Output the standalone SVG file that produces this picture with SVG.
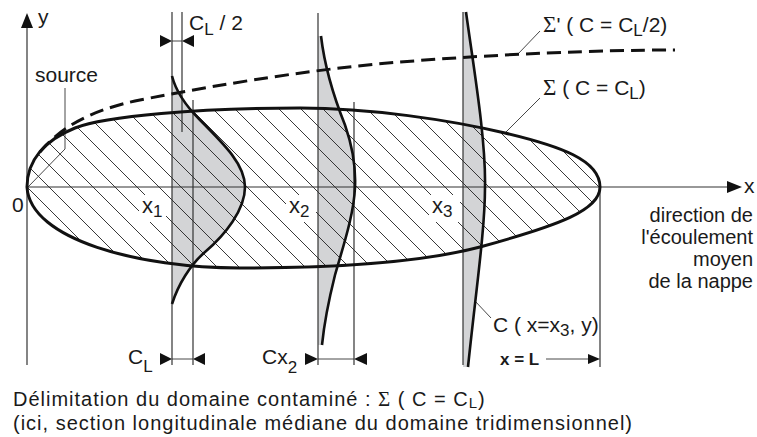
<svg xmlns="http://www.w3.org/2000/svg" width="757" height="437" viewBox="0 0 757 437">
<style>
text{font-family:"Liberation Sans",Arial,sans-serif;fill:#1a1a1a}
.lbl{font-size:21px}
.sub{font-size:17px}
.rt{font-size:20px;text-anchor:end}
.cap{font-size:20px;letter-spacing:1px}
.thin{stroke:#333;stroke-width:1.2;fill:none}
.lead{stroke:#333;stroke-width:0.9;fill:none}
.thick{stroke:#111;stroke-width:3;fill:none}
.prof{stroke:#111;stroke-width:2.6;fill:none}
.gray{fill:#d3d4d6;stroke:none}
.ah{fill:#111}
.sig{font-family:"Liberation Serif","DejaVu Serif",serif}
</style>
<defs>
<pattern id="hatch" patternUnits="userSpaceOnUse" x="27" y="187" width="22" height="22">
<path d="M0,0 L22,22 M-2,20 L2,24 M20,-2 L24,2" stroke="#222" stroke-width="0.9"/>
</pattern>
</defs>

<g id="fills">
<path class="gray" d="M172,76 C176,92 185,105 200,120 C225,145 245,165 245,187 C245,210 225,235 205,252 C190,265 178,285 172,304 Z"/>
<path class="gray" d="M318,36 L321,36 C325,70 335,100 345,125 C352,145 356,165 355,187 C354,215 342,250 335,275 C330,295 324,325 322,345 L318,345 Z"/>
<path class="gray" d="M463,12 L466,12 C474,70 486,140 485,187 C485,230 476,290 468,367 L463,367 Z"/>
</g>

<g id="domain-hatch">
<path fill="url(#hatch)" d="M27,187 C27,160 45,140 75,128 C105,116 200,108 300,108 C370,108 450,120 505,133 C560,146 600,160 600,187 C600,210 560,225 480,247 C420,263 330,268 240,268 C140,268 30,240 27,187 Z"/>
<rect x="139" y="195" width="27" height="27" fill="#fff"/>
<rect x="286" y="195" width="30" height="27" fill="#fff"/>
<rect x="429" y="195" width="31" height="27" fill="#fff"/>
</g>

<g id="connectors">
<line class="thin" x1="27" y1="26" x2="27" y2="365"/>
<line class="thin" x1="27" y1="187" x2="729" y2="187"/>
<polygon class="ah" points="27,13 21,28 33,28"/>
<polygon class="ah" points="742,187 727,181 727,193"/>
<line class="thin" x1="172" y1="12" x2="172" y2="365"/>
<line class="thin" x1="182" y1="12" x2="182" y2="132"/>
<line class="thin" x1="193" y1="100" x2="193" y2="365"/>
<line class="thin" x1="318" y1="13" x2="318" y2="365"/>
<line class="thin" x1="354" y1="102" x2="354" y2="365"/>
<line class="thin" x1="463" y1="12" x2="463" y2="365"/>
<line class="thin" x1="600" y1="187" x2="600" y2="367"/>
<line class="lead" x1="172" y1="41" x2="182" y2="41"/>
<polygon class="ah" points="172,41 160,35 160,47"/>
<polygon class="ah" points="182,41 194,35 194,47"/>
<line class="lead" x1="172" y1="359" x2="193" y2="359"/>
<polygon class="ah" points="172,359 160,353 160,365"/>
<polygon class="ah" points="193,359 205,353 205,365"/>
<line class="lead" x1="318" y1="359" x2="354" y2="359"/>
<polygon class="ah" points="318,359 305,353 305,365"/>
<polygon class="ah" points="354,359 367,353 367,365"/>
<line class="lead" x1="546" y1="359" x2="590" y2="359"/>
<polygon class="ah" points="600,359 588,354 588,364"/>
<polyline class="lead" points="65,88 65,149 28,187"/>
<line class="lead" x1="518" y1="54" x2="540" y2="31"/>
<line class="lead" x1="505" y1="133" x2="540" y2="98"/>
<line class="lead" x1="475" y1="301" x2="491" y2="318"/>
</g>

<g id="sigma-CL">
<path class="thick" d="M27,187 C27,160 45,140 75,128 C105,116 200,108 300,108 C370,108 450,120 505,133 C560,146 600,160 600,187 C600,210 560,225 480,247 C420,263 330,268 240,268 C140,268 30,240 27,187 Z"/>
</g>
<g id="sigma-prime">
<path class="thick" stroke-dasharray="14 7" d="M40,152 C60,128 90,110 140,100 C190,90 300,70 400,62 C500,54 600,50 675,50"/>
</g>
<g id="profile-x1">
<path class="prof" d="M172,76 C176,92 185,105 200,120 C225,145 245,165 245,187 C245,210 225,235 205,252 C190,265 178,285 172,304"/>
</g>
<g id="profile-x2">
<path class="prof" d="M321,36 C325,70 335,100 345,125 C352,145 356,165 355,187 C354,215 342,250 335,275 C330,295 324,325 322,345"/>
</g>
<g id="profile-x3">
<path class="prof" d="M466,12 C474,70 486,140 485,187 C485,230 476,290 468,367"/>
</g>

<g id="labels">
<text class="lbl" x="38" y="24">y</text>
<text class="lbl" x="744" y="193">x</text>
<text class="lbl" x="12" y="212">0</text>
<text class="lbl" x="35" y="82">source</text>
<text class="lbl" x="189" y="30">C<tspan class="sub" dy="5">L</tspan><tspan dy="-5"> / 2</tspan></text>
<text class="lbl" x="543" y="32"><tspan class="sig" style="font-size:23px">Σ</tspan>' ( C = C<tspan class="sub" dy="4">L</tspan><tspan dy="-4">/2)</tspan></text>
<text class="lbl" x="543" y="95"><tspan class="sig" style="font-size:23px">Σ</tspan> ( C = C<tspan class="sub" dy="4">L</tspan><tspan dy="-4">)</tspan></text>
<text class="lbl" x="142" y="213" style="font-size:22px">x<tspan class="sub" dy="4">1</tspan></text>
<text class="lbl" x="289" y="213" style="font-size:22px">x<tspan class="sub" dy="4">2</tspan></text>
<text class="lbl" x="432" y="213" style="font-size:22px">x<tspan class="sub" dy="4">3</tspan></text>
<text class="rt" x="753" y="222">direction de</text>
<text class="rt" x="753" y="244">l'écoulement</text>
<text class="rt" x="753" y="266">moyen</text>
<text class="rt" x="753" y="288">de la nappe</text>
<text class="lbl" x="493" y="332">C ( x=x<tspan class="sub" dy="4">3</tspan><tspan dy="-4">, y)</tspan></text>
<text x="500" y="365" style="font-size:17px;font-weight:bold">x = L</text>
<text class="lbl" x="128" y="364">C<tspan class="sub" dy="8">L</tspan></text>
<text class="lbl" x="262" y="364">Cx<tspan class="sub" dy="9">2</tspan></text>
<text class="cap" x="13" y="406">Délimitation du domaine contaminé : <tspan class="sig" style="font-size:21px">Σ</tspan> ( C = C<tspan style="font-size:15px" dy="2">L</tspan><tspan dy="-2">)</tspan></text>
<text class="cap" x="13" y="430">(ici, section longitudinale médiane du domaine tridimensionnel)</text>
</g>
</svg>
